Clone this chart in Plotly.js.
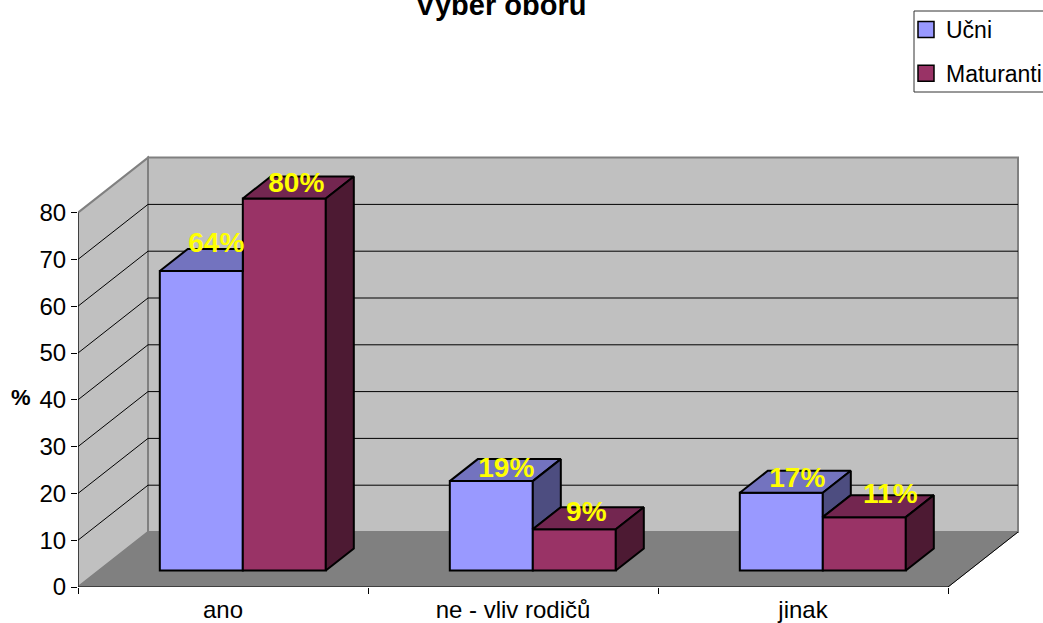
<!DOCTYPE html>
<html>
<head>
<meta charset="utf-8">
<script src="https://cdn.plot.ly/plotly-3.0.1.min.js"></script>
<style>html,body{margin:0;padding:0;background:#fff;overflow:hidden}#chart{width:1043px;height:623px}</style>
</head>
<body>
<div id="chart"></div>
<script>
const categories = ['ano', 'ne - vliv rodičů', 'jinak'];
const ucni = [64, 19.1, 16.6];
const maturanti = [79.5, 8.8, 11.4];
const yTicks = [0, 10, 20, 30, 40, 50, 60, 70, 80];

// 3D projection of the chart box (in axis units)
const pxPerCat = 290, pxPerUnit = 4.68;
const depthX = 70 / pxPerCat, depthY = 55 / pxPerUnit;
const zFront = 0.3, zBack = 0.7, barLeft = 0.2097, barW = 0.2862;
const yTop = 80;
const nCat = categories.length;
const P = (x, v, z) => [x + z * depthX, v + z * depthY];

// label nudges in pixels, [right, up]
const nudgeU = [[1, 15], [1, 0], [2, 2]];
const nudgeM = [[-2, 2], [-2, 4], [12, 10]];

function polyPath(pts) {
  return 'M' + pts.map(p => p[0] + ',' + p[1]).join('L') + 'Z';
}
function seg(a, b, color, width) {
  return {type: 'line', layer: 'below', xref: 'x', yref: 'y', x0: a[0], y0: a[1], x1: b[0], y1: b[1],
          line: {color: color, width: width}};
}
const marginL = 78, marginR = 15, marginT = 150, marginB = 36;
const plotW = 1043 - marginL - marginR, plotH = 623 - marginT - marginB;

const shapes = [];
// left wall, back wall, floor
shapes.push({type: 'path', layer: 'below', xref: 'x', yref: 'y', fillcolor: '#C0C0C0',
  path: polyPath([P(0, 0, 0), P(0, yTop, 0), P(0, yTop, 1), P(0, 0, 1)]), line: {color: '#808080', width: 2}});
shapes.push({type: 'path', layer: 'below', xref: 'x', yref: 'y', fillcolor: '#C0C0C0',
  path: polyPath([P(0, 0, 1), P(0, yTop, 1), P(nCat, yTop, 1), P(nCat, 0, 1)]), line: {color: '#808080', width: 2}});
shapes.push({type: 'path', layer: 'below', xref: 'x', yref: 'y', fillcolor: '#808080',
  path: polyPath([P(0, 0, 0), P(nCat, 0, 0), P(nCat, 0, 1), P(0, 0, 1)]), line: {color: '#808080', width: 1}});
// gridlines on the walls
yTicks.filter(v => v > 0 && v < yTop).forEach(v => {
  shapes.push(seg(P(0, v, 0), P(0, v, 1), '#000', 1));
  shapes.push(seg(P(0, v, 1), P(nCat, v, 1), '#000', 1));
});
shapes.push(seg(P(nCat, 0, 0), P(nCat, 0, 1), '#000', 1));
// legend frame, running off the right edge of the page
shapes.push({type: 'rect', layer: 'below', xref: 'paper', yref: 'paper',
  x0: (914 - marginL) / plotW, x1: (1060 - marginL) / plotW,
  y0: (587 - 92) / plotH, y1: (587 - 11) / plotH,
  line: {color: '#333', width: 1}, fillcolor: '#fff'});

function barX(i, s) { return i + barLeft + s * barW; }
const floorLevel = P(0, 0, zFront)[1];

function frontBar(name, vals, s, color) {
  return {type: 'bar', name: name, showlegend: false,
    x: vals.map((v, i) => P(barX(i, s) + barW / 2, 0, zFront)[0]),
    y: vals, base: vals.map(() => floorLevel), width: barW,
    marker: {color: color, line: {color: '#000', width: 2}}, hoverinfo: 'skip'};
}
function legendKey(name, color) {
  return {type: 'scatter', mode: 'markers', name: name, legendgroup: name, x: [null], y: [null],
    marker: {symbol: 'square', size: 16, color: color, line: {color: '#000', width: 1.5}}, hoverinfo: 'skip'};
}
function face(polys, color) {
  const xs = [], ys = [];
  polys.forEach(pts => {
    pts.concat([pts[0]]).forEach(p => { xs.push(p[0]); ys.push(p[1]); });
    xs.push(null); ys.push(null);
  });
  return {type: 'scatter', mode: 'lines', x: xs, y: ys, fill: 'toself', fillcolor: color,
    line: {color: '#000', width: 2}, showlegend: false, hoverinfo: 'skip', cliponaxis: false};
}
function topFaces(vals, s, nextVals, color) {
  return face(vals.map((v, i) => {
    const x0 = barX(i, s), x1 = barX(i, s + 1);
    // the part of the top hidden behind a taller neighbour is left out
    const hidden = nextVals && nextVals[i] > v;
    const backRight = hidden ? [P(x1, 0, zFront)[0], P(x1, v, zBack)[1]] : P(x1, v, zBack);
    return [P(x0, v, zFront), P(x0, v, zBack), backRight, P(x1, v, zFront)];
  }), color);
}
function sideFaces(vals, s, nextVals, color) {
  const polys = [];
  vals.forEach((v, i) => {
    const low = nextVals ? nextVals[i] : 0;
    if (low >= v) return;
    const x1 = barX(i, s + 1);
    polys.push([P(x1, v, zFront), P(x1, v, zBack), P(x1, low, zBack), P(x1, low, zFront)]);
  });
  return face(polys, color);
}
function labels(vals, s, nudge) {
  const zMid = (zFront + zBack) / 2;
  return {type: 'scatter', mode: 'text', showlegend: false, hoverinfo: 'skip', cliponaxis: false,
    x: vals.map((v, i) => P(barX(i, s) + barW / 2, v, zMid)[0] + nudge[i][0] / pxPerCat),
    y: vals.map((v, i) => P(barX(i, s) + barW / 2, v, zMid)[1] + nudge[i][1] / pxPerUnit),
    text: vals.map(v => Math.round(v) + '%'), textposition: 'middle center',
    textfont: {family: 'Liberation Sans, Arial, sans-serif', size: 28, color: '#FFFF00', weight: 'bold'}};
}

const font = {family: 'Liberation Sans, Arial, sans-serif', color: '#000'};

const traces = [
  frontBar('Učni', ucni, 0, '#9999FF'),
  frontBar('Maturanti', maturanti, 1, '#993366'),
  topFaces(ucni, 0, maturanti, '#7373BF'),
  sideFaces(ucni, 0, maturanti, '#4D4D80'),
  topFaces(maturanti, 1, null, '#732650'),
  sideFaces(maturanti, 1, null, '#4D1A33'),
  labels(ucni, 0, nudgeU),
  labels(maturanti, 1, nudgeM),
  {type: 'scatter', mode: 'lines', x: [0, 0, null, 0, nCat], y: [0, yTop, null, 0, 0],
   line: {color: '#000', width: 1}, showlegend: false, hoverinfo: 'skip', cliponaxis: false},
  legendKey('Učni', '#9999FF'),
  legendKey('Maturanti', '#993366')
];

const layout = {
  width: 1043, height: 623,
  margin: {l: marginL, r: marginR, t: marginT, b: marginB, pad: 0, autoexpand: false},
  paper_bgcolor: '#fff', plot_bgcolor: 'rgba(0,0,0,0)',
  barmode: 'overlay', showlegend: true,
  title: {text: '<b>Výběr oboru</b>', x: 501 / 1043, xanchor: 'center', xref: 'container',
          y: 1 - 5 / 623, yanchor: 'middle', yref: 'container', automargin: false,
          font: Object.assign({}, font, {size: 29})},
  xaxis: {range: [0, plotW / pxPerCat], showgrid: false, zeroline: false, showline: false,
          tickmode: 'array', tickvals: categories.map((c, i) => i + 0.5), ticktext: categories,
          ticks: '', tickfont: Object.assign({}, font, {size: 24}), ticklabelstandoff: 6,
          minor: {tickmode: 'array', tickvals: categories.map((c, i) => i).concat([nCat]),
                  ticks: 'outside', ticklen: 6, tickcolor: '#000', tickwidth: 1, showgrid: false}},
  yaxis: {range: [0, plotH / pxPerUnit], showgrid: false, zeroline: false, showline: false,
          tickmode: 'array', tickvals: yTicks, ticktext: yTicks.map(String),
          ticks: 'outside', ticklen: 6, tickcolor: '#000', tickwidth: 1,
          tickfont: Object.assign({}, font, {size: 24})},
  legend: {xref: 'container', yref: 'container', x: 906 / 1043, xanchor: 'left', y: 1 - 8 / 623, yanchor: 'top',
           borderwidth: 0, bgcolor: 'rgba(0,0,0,0)', traceorder: 'grouped', itemsizing: 'trace',
           tracegroupgap: 11, font: Object.assign({}, font, {size: 23})},
  shapes: shapes,
  annotations: [{text: '<b>%</b>', xref: 'paper', yref: 'paper', showarrow: false,
                 x: (21 - marginL) / plotW, y: (587 - 397) / plotH, xanchor: 'center', yanchor: 'middle',
                 font: Object.assign({}, font, {size: 22})}]
};
Plotly.newPlot('chart', traces, layout, {displayModeBar: false, staticPlot: true});
</script>
</body>
</html>
